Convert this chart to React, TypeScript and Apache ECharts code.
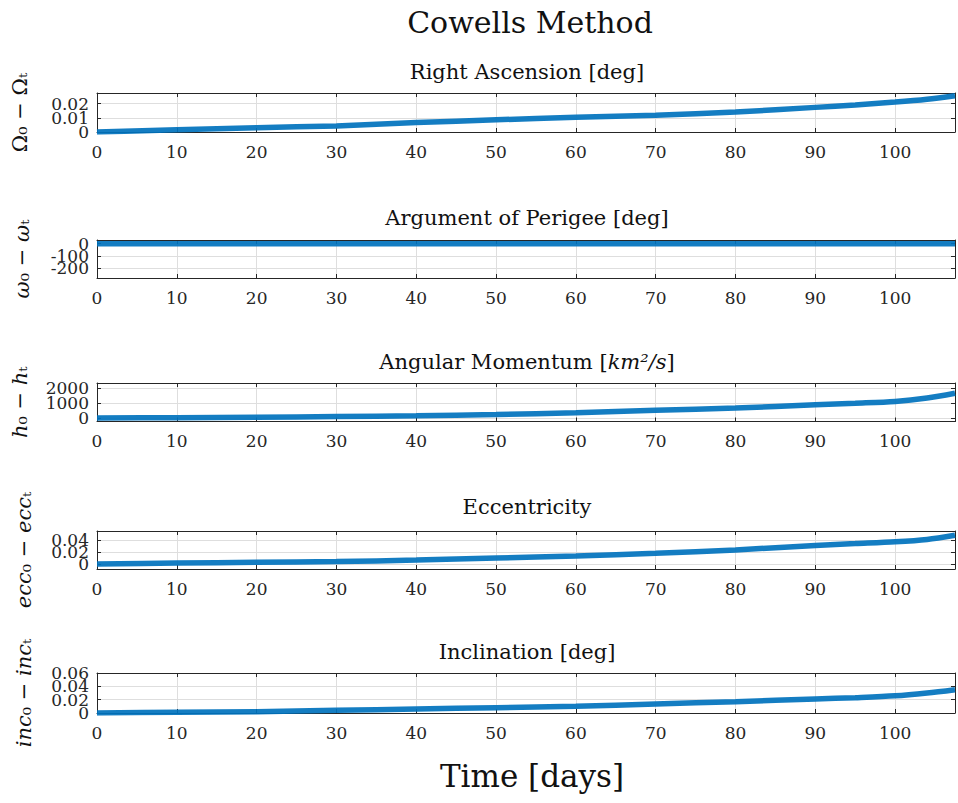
import React, { useEffect, useRef } from "react";
import * as echarts from "echarts";

const days = [0, 10, 20, 30, 40, 50, 60, 70, 80, 90, 95, 100, 104, 107.5];
const raDiff = [0, 0.0015, 0.003, 0.0043, 0.0066, 0.0086, 0.0103, 0.0118, 0.014, 0.0173, 0.019, 0.021, 0.023, 0.0255];
const argpDiff = [0, 0, 0, 0, 0, 0, 0, 0, 0, 0, 0, 0, 0, 0];
const hDiff = [0, 30, 60, 100, 150, 240, 350, 520, 667, 887, 990, 1110, 1333, 1650];
const eccDiff = [0, 0.0015, 0.0028, 0.004, 0.0067, 0.01, 0.0135, 0.018, 0.0235, 0.031, 0.034, 0.037, 0.041, 0.048];
const incDiff = [0, 0.001, 0.002, 0.004, 0.006, 0.008, 0.01, 0.0135, 0.017, 0.021, 0.023, 0.0257, 0.03, 0.035];

const seriesList = [raDiff, argpDiff, hDiff, eccDiff, incDiff];
const subTitles = [
  "Right Ascension [deg]",
  "Argument of Perigee [deg]",
  "Angular Momentum [{i|km²/s}]",
  "Eccentricity",
  "Inclination [deg]",
];
const yNames = [
  "Ω₀ − Ωₜ",
  "{i|ω}₀ − {i|ω}ₜ",
  "{i|h}₀ − {i|h}ₜ",
  "{i|ecc}₀ − {i|ecc}ₜ",
  "{i|inc}₀ − {i|inc}ₜ",
];
const yMin = [0, -280, -225, -0.0083, 0];
const yMax = [0.0274, 30, 2333, 0.055, 0.06];
const yStep = [0.01, 100, 1000, 0.02, 0.02];
const xMax = 107.5;
const xStep = 10;

const gridTops = [93, 240, 383, 531, 673];
const gridHeights = [39, 38, 38.5, 38, 40];
const titleYs = [72, 218, 362, 507, 652];
const yNameX = [20, 22, 20, 24, 24];

const FONT = "'DejaVu Serif', 'Liberation Serif', serif";
const INK = "#262626";

// parity: null = all multiples, 0 = even multiples only, 1 = odd multiples only
function stepFormatter(step: number, parity: number | null) {
  return (v: number) => {
    const r = v / step;
    const n = Math.round(r);
    if (Math.abs(r - n) > 1e-6) return "";
    if (parity !== null && Math.abs(n % 2) !== parity) return "";
    return String(parseFloat((n * step).toFixed(6)));
  };
}

export default function App() {
  const ref = useRef<HTMLDivElement>(null);
  useEffect(() => {
    if (!ref.current) return;
    const chart = echarts.init(ref.current, null, { renderer: "svg" });
    const grid: any[] = [];
    const xAxis: any[] = [];
    const yAxis: any[] = [];
    const series: any[] = [];
    const graphic: any[] = [];
    seriesList.forEach((vals, k) => {
      grid.push({ left: 97, right: 1, top: gridTops[k], height: gridHeights[k] });
      const common = {
        gridIndex: k,
        axisLine: { show: true, onZero: false, lineStyle: { color: INK, width: 1 } },
        axisTick: { show: true, inside: true, length: 4, lineStyle: { color: INK } },
      };
      const labelBase = {
        color: INK, fontFamily: FONT, fontSize: 17,
        showMinLabel: true, showMaxLabel: true, hideOverlap: false,
      };
      xAxis.push({
        ...common,
        type: "value",
        position: "bottom",
        min: 0,
        max: xMax,
        minInterval: xStep,
        maxInterval: xStep,
        splitNumber: 11,
        axisLabel: { ...labelBase, margin: 11, formatter: stepFormatter(xStep, null) },
        splitLine: { show: true, lineStyle: { color: "#dedede", width: 1 } },
      });
      xAxis.push({
        ...common,
        type: "value",
        position: "top",
        min: 0,
        max: xMax,
        minInterval: xStep,
        maxInterval: xStep,
        splitNumber: 11,
        axisLabel: { show: false },
        splitLine: { show: false },
      });
      const yRange = {
        type: "value",
        min: yMin[k],
        max: yMax[k],
        minInterval: yStep[k],
        maxInterval: yStep[k],
        splitNumber: 3,
      };
      // left axis: line, ticks, grid, even labels
      yAxis.push({
        ...common,
        ...yRange,
        position: "left",
        axisLabel: { ...labelBase, margin: 8, formatter: stepFormatter(yStep[k], 0) },
        splitLine: { show: true, lineStyle: { color: "#dedede", width: 1 } },
      });
      // left axis: odd labels only
      yAxis.push({
        gridIndex: k,
        ...yRange,
        position: "left",
        axisLine: { show: false, onZero: false },
        axisTick: { show: false },
        axisLabel: { ...labelBase, margin: 8, formatter: stepFormatter(yStep[k], 1) },
        splitLine: { show: false },
      });
      // right axis: box and ticks
      yAxis.push({
        ...common,
        ...yRange,
        position: "right",
        axisLabel: { show: false },
        splitLine: { show: false },
      });
      series.push({
        type: "line",
        xAxisIndex: 2 * k,
        yAxisIndex: 3 * k,
        data: days.map((d, i) => [d, vals[i]]),
        showSymbol: false,
        smooth: 0.3,
        lineStyle: { color: "#0072BD", width: 5.5, opacity: 0.92 },
        itemStyle: { color: "#0072BD" },
      });
      graphic.push({
        type: "text",
        x: 527,
        y: titleYs[k],
        style: {
          text: subTitles[k],
          fontFamily: FONT,
          fontSize: 21,
          fill: "#111",
          align: "center",
          verticalAlign: "middle",
          rich: { i: { fontStyle: "italic", fontFamily: FONT, fontSize: 21, fill: "#111" } },
        },
      });
      graphic.push({
        type: "text",
        x: yNameX[k],
        y: gridTops[k] + gridHeights[k] / 2,
        rotation: Math.PI / 2,
        style: {
          text: yNames[k],
          fontFamily: FONT,
          fontSize: 21,
          fill: "#111",
          align: "center",
          verticalAlign: "middle",
          rich: { i: { fontStyle: "italic", fontFamily: FONT, fontSize: 21, fill: "#111" } },
        },
      });
    });
    graphic.push({
      type: "text",
      x: 530,
      y: 22,
      style: { text: "Cowells Method", fontFamily: FONT, fontSize: 30, fill: "#111", align: "center", verticalAlign: "middle" },
    });
    graphic.push({
      type: "text",
      x: 532,
      y: 776,
      style: { text: "Time [days]", fontFamily: FONT, fontSize: 31, fill: "#111", align: "center", verticalAlign: "middle" },
    });
    chart.setOption({
      animation: false,
      backgroundColor: "#ffffff",
      grid,
      xAxis,
      yAxis,
      series,
      graphic,
    });
    return () => chart.dispose();
  }, []);
  return (
    <div
      ref={ref}
      style={{ position: "fixed", left: 0, top: 0, width: 958, height: 803 }}
    />
  );
}
